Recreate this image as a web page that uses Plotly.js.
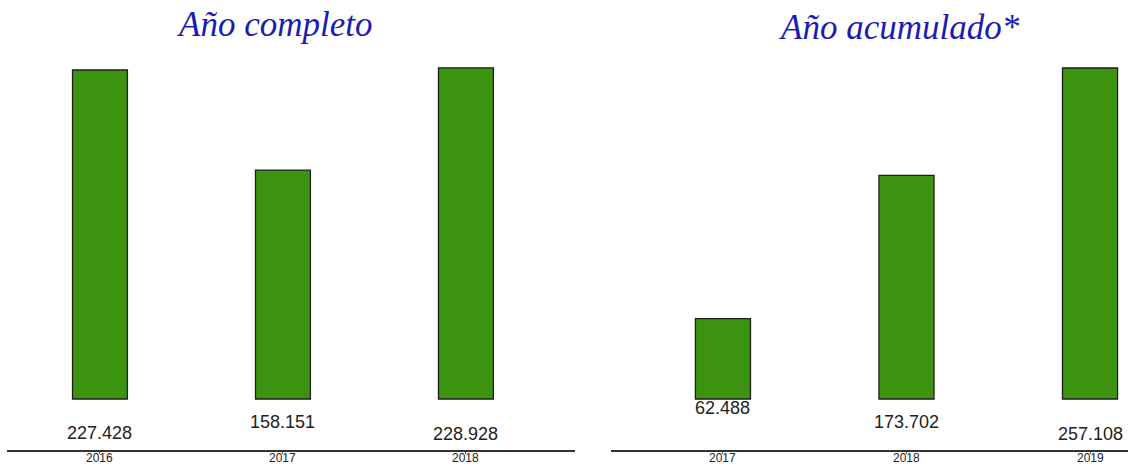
<!DOCTYPE html>
<html><head><meta charset="utf-8">
<script src="https://cdn.plot.ly/plotly-3.0.1.min.js"></script>
<style>html,body{margin:0;padding:0;background:#fff}#c{width:1128px;height:466px}</style>
</head><body><div id="c"></div>
<script>
const yearsCompleto = ['2016','2017','2018'];
const valuesCompleto = [227428, 158151, 228928];
const yearsAcumulado = ['2017','2018','2019'];
const valuesAcumulado = [62488, 173702, 257108];
const titleCompleto = 'Año completo';
const titleAcumulado = 'Año acumulado*';
// pixel drop of each value label below the bar base (style)
const dropCompleto = [34, 23, 35];
const dropAcumulado = [9, 23, 35];

function fmt(v){return String(v).replace(/\B(?=(\d{3})+(?!\d))/g,'.');}

const barStyle = {color:'#3c930f', line:{color:'#1e1e1e', width:1.3}};
const traces = [
  {type:'bar', x:yearsCompleto, y:valuesCompleto, xaxis:'x', yaxis:'y', marker:barStyle, width:0.3, hoverinfo:'none'},
  {type:'bar', x:yearsAcumulado, y:valuesAcumulado, xaxis:'x2', yaxis:'y2', marker:barStyle, width:0.3, hoverinfo:'none'}
];
const ann = [];
const lf = {family:'Liberation Sans, Arial', size:18, color:'#222'};
const kf = {family:'Liberation Sans, Arial', size:12, color:'#222'};
yearsCompleto.forEach((c,i)=>{
  ann.push({x:i, y:0, xref:'x', yref:'y', text:fmt(valuesCompleto[i]), showarrow:false, xanchor:'center', yanchor:'middle', yshift:-dropCompleto[i], font:lf});
  ann.push({x:i, y:0, xref:'x', yref:'paper', text:c, showarrow:false, xanchor:'center', yanchor:'middle', yshift:-8, font:kf, borderpad:0});
});
yearsAcumulado.forEach((c,i)=>{
  ann.push({x:i, y:0, xref:'x2', yref:'y2', text:fmt(valuesAcumulado[i]), showarrow:false, xanchor:'center', yanchor:'middle', yshift:-dropAcumulado[i], font:lf});
  ann.push({x:i, y:0, xref:'x2', yref:'paper', text:c, showarrow:false, xanchor:'center', yanchor:'middle', yshift:-8, font:kf, borderpad:0});
});
const tf = {family:'Liberation Serif, Times New Roman, serif', size:35, color:'#1c1cb4'};
ann.push({x:274/1128, y:1-24/450, xref:'paper', yref:'paper', xanchor:'center', yanchor:'middle', text:'<i>'+titleCompleto+'</i>', showarrow:false, font:tf});
ann.push({x:899/1128, y:1-28/450, xref:'paper', yref:'paper', xanchor:'center', yanchor:'middle', text:'<i>'+titleAcumulado+'</i>', showarrow:false, font:tf});

const axX = {type:'category', showline:true, linecolor:'#333', linewidth:1.5, showgrid:false, zeroline:false,
  ticks:'outside', ticklen:2, tickcolor:'#555', showticklabels:false, fixedrange:true};
const layout = {
  width:1128, height:466, margin:{l:0, r:0, t:0, b:16}, paper_bgcolor:'#fff', plot_bgcolor:'#fff', showlegend:false,
  xaxis:Object.assign({}, axX, {domain:[7/1128, 575/1128], range:[-0.508, 2.596], anchor:'y'}),
  yaxis:{domain:[0,1], range:[-35255, 275820], visible:false, anchor:'x'},
  xaxis2:Object.assign({}, axX, {domain:[611/1128, 1], range:[-0.61, 2.207], anchor:'y2'}),
  yaxis2:{domain:[0,1], range:[-39615, 309930], visible:false, anchor:'x2'},
  annotations:ann
};
Plotly.newPlot('c', traces, layout, {staticPlot:true});
</script></body></html>
